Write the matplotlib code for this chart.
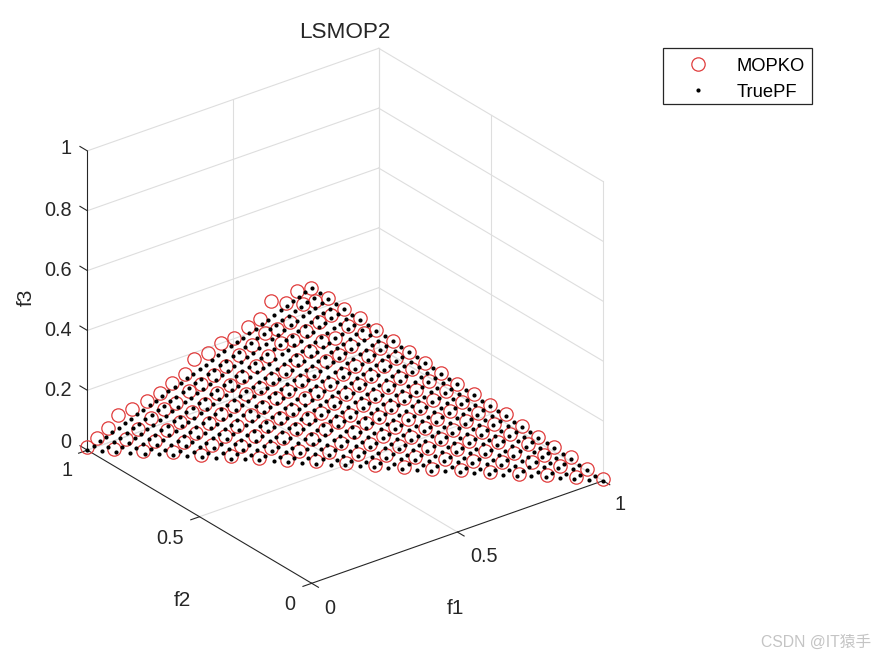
import matplotlib
matplotlib.use('Agg')
import matplotlib.pyplot as plt
from matplotlib.lines import Line2D
from matplotlib.patches import Rectangle
from mpl_toolkits.mplot3d import proj3d

plt.rcParams['font.family'] = ['Liberation Sans', 'DejaVu Sans']

W, H = 875, 656

# MOPKO points, one line per f3 layer
mopko_f1 = [
    0, .056, .111, .167, .222, .278, .333, .389, .444, .5, .556, .611, .667, .722, .778, .833, .889, .944, 1,
    0, .056, .111, .167, .222, .278, .333, .389, .444, .5, .556, .611, .667, .722, .778, .833, .889, .944,
    0, .056, .111, .167, .222, .278, .333, .389, .444, .5, .556, .611, .667, .722, .778, .833, .889,
    0, .056, .111, .167, .222, .278, .333, .389, .444, .5, .556, .611, .667, .722, .778, .833,
    0, .056, .111, .167, .222, .278, .333, .389, .444, .5, .556, .611, .667, .722, .778,
    0, .056, .111, .167, .222, .278, .333, .389, .444, .5, .556, .611, .667, .722,
    0, .056, .111, .167, .222, .278, .333, .389, .444, .5, .556, .611, .667,
    0, .056, .111, .167, .222, .278, .333, .389, .444, .5, .556, .611,
    0, .056, .111, .167, .222, .278, .333, .389, .444, .5, .556,
    0, .056, .111, .167, .222, .278, .333, .389, .444, .5,
    0, .056, .111, .167, .222, .278, .333, .389, .444,
    0, .056, .111, .167, .222, .278, .333, .389,
    0, .056, .111, .167, .222, .278, .333,
    0, .056, .111, .167, .222, .278,
    0, .056, .111, .167, .222,
    0, .056, .111, .167,
    0, .056, .111,
    0, .056,
    0,
]
mopko_f2 = [
    1, .956, .896, .837, .78, .722, .668, .613, .556, .497, .441, .384, .328, .273, .215, .159, .105, .048, 0,
    .957, .902, .842, .787, .731, .676, .615, .56, .5, .444, .389, .333, .274, .218, .163, .102, .047, 0,
    .907, .846, .787, .731, .676, .615, .56, .504, .444, .389, .333, .274, .218, .163, .107, .047, 0,
    .863, .787, .731, .676, .62, .56, .504, .448, .389, .333, .278, .218, .163, .107, .047, 0,
    .8, .731, .676, .62, .56, .504, .448, .389, .333, .278, .218, .163, .107, .052, 0,
    .734, .676, .62, .565, .504, .448, .393, .333, .278, .222, .163, .107, .052, 0,
    .675, .62, .565, .509, .448, .393, .333, .278, .222, .167, .107, .052, 0,
    .622, .565, .509, .448, .393, .337, .278, .222, .167, .107, .052, 0,
    .564, .509, .453, .393, .337, .278, .222, .167, .111, .052, 0,
    .524, .453, .393, .337, .282, .222, .167, .111, .052, 0,
    .461, .398, .337, .282, .226, .167, .111, .056, 0,
    .404, .337, .282, .226, .167, .111, .056, 0,
    .346, .282, .226, .171, .111, .056, 0,
    .283, .226, .171, .111, .056, 0,
    .23, .171, .111, .056, 0,
    .181, .111, .056, 0,
    .114, .056, 0,
    .065, 0,
    .003,
]
mopko_f3 = [
    .01, .005, .006, .008, .006, .008, .007, .007, .008, .008, .008, .009, .009, .009, .01, .01, .009, .01, .005,
    .06, .061, .064, .064, .061, .062, .064, .061, .063, .062, .065, .063, .065, .065, .065, .074, .067, .06,
    .116, .121, .123, .119, .116, .123, .123, .123, .12, .12, .12, .122, .122, .122, .12, .122, .116,
    .177, .182, .177, .177, .175, .18, .178, .182, .179, .173, .174, .176, .176, .176, .177, .169,
    .227, .238, .235, .232, .236, .233, .239, .233, .234, .226, .231, .231, .231, .23, .223,
    .284, .282, .284, .283, .289, .283, .279, .28, .28, .28, .285, .285, .282, .278,
    .336, .346, .348, .348, .344, .35, .339, .339, .339, .339, .337, .337, .336,
    .393, .397, .397, .396, .393, .391, .394, .394, .394, .394, .393, .386,
    .449, .452, .449, .449, .449, .448, .449, .449, .446, .448, .441,
    .517, .507, .512, .502, .502, .504, .504, .504, .502, .494,
    .565, .567, .573, .562, .565, .558, .561, .559, .551,
    .624, .628, .641, .617, .613, .614, .614, .603,
    .667, .692, .673, .678, .667, .665, .659,
    .731, .729, .73, .713, .736, .716,
    .782, .778, .787, .779, .769,
    .864, .864, .834, .829,
    .887, .898, .878,
    .949, .934,
    .986,
]

# TruePF lattice levels read along the edges of the triangle
pf_levels = [0, .028, .056, .083, .111, .139, .167, .194, .222, .25, .278, .306, .333,
             .361, .389, .417, .444, .472, .5, .528, .556, .583, .611, .639, .667, .694,
             .722, .75, .778, .806, .833, .861, .889, .917, .944, .972, 1]
pf_f3_levels = [0, .027, .055, .082, .11, .137, .165, .192, .219, .247, .274, .302, .329,
                .357, .384, .411, .439, .466, .494, .521, .548, .576, .603, .631, .658, .685,
                .713, .74, .768, .795, .823, .85, .877, .905, .932, .96, .987]

f12_ticks = [0, 0.5, 1]
f3_ticks = [0, 0.2, 0.4, 0.6, 0.8, 1]
f1_labels = ['0', '0.5', '1']
f2_labels = ['0', '0.5', '1']
f3_labels = ['0', '0.2', '0.4', '0.6', '0.8', '1']

pf_f1, pf_f2, pf_f3 = [], [], []
for r, z in enumerate(pf_f3_levels):
    n = len(pf_levels) - r
    pf_f1 += pf_levels[:n]
    pf_f2 += pf_levels[:n][::-1]
    pf_f3 += [z] * n


def fig_xy(x, y):
    return x / W, 1 - y / H


fig = plt.figure(figsize=(W / 100, H / 100), dpi=100)
ax = fig.add_subplot(projection='3d', proj_type='ortho', computed_zorder=False)
ax.set_axis_off()
ax.view_init(elev=27.2, azim=-127.6)
ax.set_box_aspect((1, 1, 0.915))
ax.set_xlim(0, 1, view_margin=0)
ax.set_ylim(0, 1, view_margin=0)
ax.set_zlim(0, 1, view_margin=0)


def to_px(x, y, z):
    ax.apply_aspect()
    X, Y, _ = proj3d.proj_transform(x, y, z, ax.get_proj())
    return ax.transData.transform((X, Y))


# fit the square 3D box so the axis corners land where they are in the picture
size = 700.0
ax.set_position([0.1, 0.1, size / W, size / H])
cur = to_px(1, 0, 0) - to_px(0, 1, 0)
size *= (602.7 - 87) / cur[0]
ax.set_position([0.1, 0.1, size / W, size / H])
o = to_px(0, 0, 0)
ax.set_position([0.1 + (311.7 - o[0]) / W, 0.1 + (H - 583.3 - o[1]) / H, size / W, size / H])

grid = dict(color='#dedede', lw=0.8, zorder=1)
axis = dict(color='#262626', lw=0.8, zorder=2)

for v in f12_ticks:
    if v > 0:
        ax.plot([v, v], [0, 1], [0, 0], **grid)
        ax.plot([0, 1], [v, v], [0, 0], **grid)
        ax.plot([v, v], [1, 1], [0, 1], **grid)
    ax.plot([1, 1], [v, v], [0, 1], **grid)
for z in f3_ticks:
    ax.plot([0, 1], [1, 1], [z, z], **grid)
    ax.plot([1, 1], [0, 1], [z, z], **grid)

ax.plot([0, 1], [0, 0], [0, 0], **axis)
ax.plot([0, 0], [0, 1], [0, 0], **axis)
ax.plot([0, 0], [1, 1], [0, 1], **axis)
for v in f12_ticks:
    ax.plot([v, v], [0, -0.03], [0, 0], **axis)
    ax.plot([0, -0.03], [v, v], [0, 0], **axis)
for z in f3_ticks:
    ax.plot([0, 0], [1, 1.033], [z, z], **axis)

red = '#e03c3c'
ax.plot(mopko_f1, mopko_f2, mopko_f3, 'o', mfc='none', mec=red, mew=0.9, ms=9.6, zorder=3)
ax.plot(pf_f1, pf_f2, pf_f3, 'o', color='black', mew=0, ms=3.0, zorder=4)

tick_kw = dict(fontsize=14.3, color='#262626', va='center')
for lab, (x, y) in zip(f1_labels, [(330, 608), (484, 557), (620, 505)]):
    fig.text(*fig_xy(x, y), lab, ha='center', **tick_kw)
for lab, (x, y) in zip(f2_labels, [(290, 605), (170, 538.5), (67, 470.5)]):
    fig.text(*fig_xy(x, y), lab, ha='center', **tick_kw)
for lab, y in zip(f3_labels, [443, 390, 331, 271, 211, 149]):
    fig.text(*fig_xy(71.5, y), lab, ha='right', **tick_kw)

fig.text(*fig_xy(455, 609), 'f1', fontsize=15, color='#262626', ha='center', va='center')
fig.text(*fig_xy(182, 601), 'f2', fontsize=15, color='#262626', ha='center', va='center')
fig.text(*fig_xy(26, 297), 'f3', fontsize=15, color='#262626', ha='center', va='center', rotation=90)
fig.text(*fig_xy(345, 33), 'LSMOP2', fontsize=16.2, color='#262626', ha='center', va='center')

handles = [
    Line2D([], [], ls='none', marker='o', mfc='none', mec=red, mew=0.9, ms=9.6),
    Line2D([], [], ls='none', marker='o', color='black', mew=0, ms=3.0),
]
fig.legend(handles, ['MOPKO', 'TruePF'], loc='upper left', bbox_to_anchor=fig_xy(663.4, 50.4),
           borderaxespad=0, fontsize=13.2, frameon=False,
           borderpad=0.4, handlelength=3, handletextpad=0.6, labelspacing=0.5)
fig.add_artist(Rectangle((662.7 / W, 1 - 104 / H), 149 / W, 56 / H, transform=fig.transFigure,
                         fill=False, edgecolor='#262626', lw=0.9))

fig.text(*fig_xy(871, 642), 'CSDN @IT猿手', fontsize=11.3, color='#c4c4c4', ha='right', va='center',
         family=['Liberation Sans', 'Noto Sans CJK SC'])

fig.savefig('out.png', dpi=100)
